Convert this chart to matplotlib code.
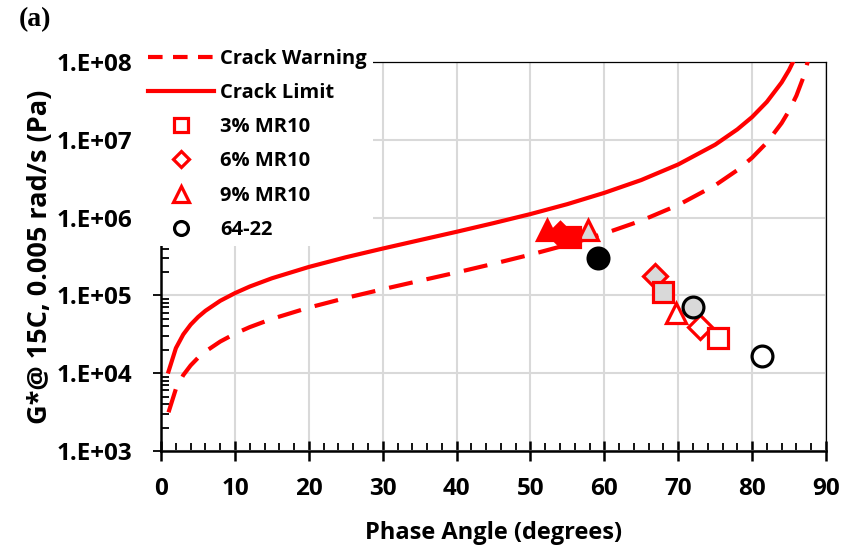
import numpy as np
import matplotlib.pyplot as plt
from matplotlib.lines import Line2D
from matplotlib.ticker import FixedLocator, MultipleLocator, LogLocator, NullFormatter

# criterion curves
ang = [1, 2, 3, 4, 5, 6, 8, 10, 12, 15, 20, 25, 30, 35, 40, 45, 50, 55,
       60, 65, 70, 75, 78, 80, 82, 84, 85, 86, 87, 88]
limit = [1.05e4, 2.10e4, 3.15e4, 4.21e4, 5.27e4, 6.34e4, 8.52e4, 1.07e5, 1.30e5,
         1.66e5, 2.32e5, 3.09e5, 4.00e5, 5.13e5, 6.57e5, 8.49e5, 1.11e6, 1.49e6,
         2.08e6, 3.04e6, 4.82e6, 8.65e6, 1.36e7, 1.96e7, 3.07e7, 5.46e7, 7.87e7,
         1.23e8, 2.19e8, 4.92e8]
warning = [3.14e3, 6.29e3, 9.45e3, 1.26e4, 1.58e4, 1.90e4, 2.55e4, 3.22e4, 3.91e4,
           4.99e4, 6.97e4, 9.26e4, 1.20e5, 1.54e5, 1.97e5, 2.55e5, 3.34e5, 4.48e5,
           6.24e5, 9.13e5, 1.45e6, 2.60e6, 4.07e6, 5.88e6, 9.20e6, 1.64e7, 2.36e7,
           3.69e7, 6.56e7, 1.48e8]

# binder points: [unaged, aged 1, aged 2]
mr3_x = [55.3, 67.9, 75.4]
mr3_y = [5.6e5, 1.1e5, 2.8e4]
mr6_x = [54.0, 66.8, 72.9]
mr6_y = [6.2e5, 1.78e5, 3.9e4]
mr9_x = [52.2, 57.8, 69.7]
mr9_y = [7.0e5, 6.9e5, 5.9e4]
pg_x = [59.1, 72.0, 81.3]
pg_y = [3.0e5, 7.1e4, 1.66e4]

red = '#ff0000'
gray = '#d9d9d9'
fnt = 'Open Sans'

fig = plt.figure(figsize=(8.48, 5.51), dpi=100)
ax = fig.add_axes([0.190, 0.1815, 0.784, 0.706])

ax.plot(ang, warning, color=red, lw=3, dashes=(5.8, 3.4), zorder=3)
ax.plot(ang, limit, color=red, lw=3, zorder=3)

def pts(xs, ys, mk, ms, ec, fills):
    for x, y, fc in zip(xs, ys, fills):
        ax.plot(x, y, marker=mk, ms=ms, mec=ec, mfc=fc, mew=2.3, ls='none', zorder=4)

pts(mr9_x, mr9_y, '^', 15, red, [red, gray, 'white'])
pts(mr6_x, mr6_y, 'D', 12, red, [red, gray, 'white'])
pts(mr3_x, mr3_y, 's', 14, red, [red, gray, 'white'])
pts(pg_x, pg_y, 'o', 15, 'black', ['black', gray, 'white'])

ax.set_yscale('log')
ax.set_xlim(0, 90)
ax.set_ylim(1e3, 1e8)
ax.xaxis.set_major_locator(MultipleLocator(10))
ax.xaxis.set_minor_locator(MultipleLocator(2))
ax.yaxis.set_major_locator(FixedLocator([1e3, 1e4, 1e5, 1e6, 1e7, 1e8]))
ax.yaxis.set_minor_locator(LogLocator(base=10, subs=np.arange(2, 10)))
ax.yaxis.set_minor_formatter(NullFormatter())
ax.set_yticklabels(['1.E+03', '1.E+04', '1.E+05', '1.E+06', '1.E+07', '1.E+08'])
ax.grid(True, which='major', color=gray, lw=1.5)
ax.set_axisbelow(True)

for s in ['top', 'right']:
    ax.spines[s].set_linewidth(0.9)
for s in ['left', 'bottom']:
    ax.spines[s].set_linewidth(1.8)
ax.tick_params(axis='x', which='major', direction='inout', length=14, width=1.8, pad=12)
ax.tick_params(axis='x', which='minor', direction='in', length=6, width=1.3)
ax.tick_params(axis='y', which='major', direction='out', length=6, width=1.3, pad=15)
ax.tick_params(axis='y', which='minor', direction='in', length=6, width=1.3)
for lab in ax.get_xticklabels() + ax.get_yticklabels():
    lab.set_fontfamily(fnt)
    lab.set_fontweight('bold')
    lab.set_fontsize(17.5)

ax.set_xlabel('Phase Angle (degrees)', family=fnt, weight='bold', fontsize=17, labelpad=14)
ax.set_ylabel('G*@ 15C, 0.005 rad/s (Pa)', family=fnt, weight='bold', fontsize=19.5, labelpad=2)

fig.text(0.022, 0.965, '(a)', family='Liberation Serif', weight='bold', fontsize=20, va='center')

handles = [
    Line2D([], [], color=red, lw=3, dashes=(3.5, 2.5)),
    Line2D([], [], color=red, lw=3),
    Line2D([], [], marker='s', ms=10, mec=red, mfc='white', mew=2.3, ls='none'),
    Line2D([], [], marker='D', ms=8, mec=red, mfc='white', mew=2.3, ls='none'),
    Line2D([], [], marker='^', ms=11, mec=red, mfc='white', mew=2.3, ls='none'),
    Line2D([], [], marker='o', ms=10, mec='black', mfc='white', mew=2.3, ls='none'),
]
names = ['Crack Warning', 'Crack Limit', '3% MR10', '6% MR10', '9% MR10', '64-22']
leg = fig.legend(handles, names, loc='upper left', bbox_to_anchor=(0.155, 0.94),
                 frameon=True, facecolor='white', edgecolor='none', framealpha=1,
                 prop={'family': fnt, 'weight': 'bold', 'size': 14.5},
                 handlelength=3.3, handletextpad=0.3, labelspacing=0.70,
                 borderpad=0.3, fancybox=False)
leg.set_zorder(10)

fig.savefig('out.png', dpi=100)
